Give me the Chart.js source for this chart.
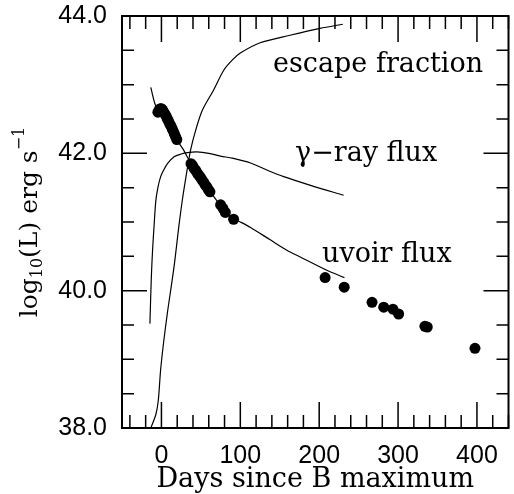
<!DOCTYPE html>
<html>
<head>
<meta charset="utf-8">
<script src="https://cdn.jsdelivr.net/npm/chart.js@4.4.1/dist/chart.umd.min.js"></script>
<style>
  html, body { margin: 0; padding: 0; background: #fff; }
  canvas { display: block; }
</style>
</head>
<body>
<canvas id="chart" width="514" height="494"></canvas>
<script>
// observed uvoir points (days since B max, log10 L)
const obsDays = [-4.5, -3, -1.5, 0, 1.5, 3, 4.5, 6, 7.5, 9, 10.5, 12, 13.5, 15, 16.5, 18, 19.5,
    37.5, 39.5, 41.5, 43.5, 45.5, 47.5, 49.5, 51.5, 53.5, 55.5, 57.5, 59.5, 61.5,
    75, 78, 81, 91.5, 207.5, 231.7, 267, 281.8, 293.5, 300.7, 334, 337, 397.5];
const obsLogL = [42.60, 42.63, 42.65, 42.65, 42.63, 42.60, 42.57, 42.54, 42.50, 42.47, 42.43, 42.40, 42.36, 42.32, 42.28, 42.24, 42.20,
    41.85, 41.82, 41.78, 41.75, 41.71, 41.68, 41.65, 41.61, 41.58, 41.54, 41.51, 41.47, 41.44,
    41.25, 41.20, 41.14, 41.04, 40.19, 40.05, 39.83, 39.76, 39.73, 39.66, 39.48, 39.47, 39.16];

// model curves
const uvoirDays = [-13.5, -8.5, -4, 0, 10, 20, 28, 37, 50, 62, 75, 83, 91, 100, 113, 138, 159, 176, 209, 232];
const uvoirLogL = [42.96, 42.73, 42.62, 42.60, 42.43, 42.19, 42.05, 41.86, 41.64, 41.44, 41.24, 41.13, 41.05, 41.0, 40.92, 40.74, 40.59, 40.49, 40.30, 40.19];

const gammaDays = [-14.6, -12.8, -11.2, -9.3, -7.2, -4.5, -1, 3, 7.6, 16, 25, 33, 45, 60, 75, 90, 113, 135, 155, 190, 231];
const gammaLogL = [39.52, 40.2, 40.6, 40.95, 41.3, 41.5, 41.66, 41.76, 41.85, 41.95, 41.99, 42.01, 42.02, 42.0, 41.96, 41.93, 41.86, 41.75, 41.66, 41.53, 41.39];

const escapeDays = [-13.5, -7, -4, -1, 3, 7.6, 16, 22, 26.5, 31, 37, 44, 52, 66, 79, 90, 100, 125, 163, 201, 230];
const escapeLogL = [38.0, 38.2, 38.4, 38.85, 39.27, 39.68, 40.35, 40.93, 41.32, 41.65, 42.05, 42.36, 42.63, 42.92, 43.21, 43.36, 43.46, 43.61, 43.72, 43.82, 43.88];

// axis ticks
const xTickLabels = [0, 100, 200, 300, 400];
const yTickLabels = [38, 40, 42, 44];

const serif = '"DejaVu Serif"';

const pts = (xs, ys) => xs.map((x, i) => ({ x: x, y: ys[i] }));

function curve(xs, ys) {
    return {
        data: pts(xs, ys),
        showLine: true,
        borderColor: '#000',
        borderWidth: 1.2,
        pointRadius: 0,
        tension: 0.3
    };
}

// frame, inward ticks, y title and curve labels
const decorations = {
    id: 'decorations',
    afterDraw(chart) {
        const { ctx, chartArea: a, scales: { x, y } } = chart;
        ctx.save();
        ctx.strokeStyle = '#000';
        ctx.lineWidth = 1.5;
        ctx.beginPath();
        for (let v = -40; v <= 440; v += 20) {
            const px = x.getPixelForValue(v);
            const len = v % 100 === 0 ? 26 : 13;
            ctx.moveTo(px, a.bottom); ctx.lineTo(px, a.bottom - len);
            ctx.moveTo(px, a.top); ctx.lineTo(px, a.top + len);
        }
        for (let v = 38.5; v < 44; v += 0.5) {
            const py = y.getPixelForValue(v);
            const len = v % 2 === 0 ? 25 : 12;
            ctx.moveTo(a.left, py); ctx.lineTo(a.left + len, py);
            ctx.moveTo(a.right, py); ctx.lineTo(a.right - len, py);
        }
        ctx.stroke();
        ctx.lineWidth = 2;
        ctx.strokeRect(a.left, a.top, a.right - a.left, a.bottom - a.top);

        // y axis title with sub- and superscript
        const parts = [
            { t: 'log', size: 25, dy: 0 },
            { t: '10', size: 16, dy: 5 },
            { t: '(L) erg s', size: 25, dy: 0 },
            { t: '\u22121', size: 16, dy: -13 }
        ];
        let total = 0;
        parts.forEach(p => {
            ctx.font = p.size + 'px ' + serif;
            p.w = ctx.measureText(p.t).width;
            total += p.w;
        });
        ctx.translate(37, (a.top + a.bottom) / 2);
        ctx.rotate(-Math.PI / 2);
        ctx.fillStyle = '#000';
        ctx.textBaseline = 'alphabetic';
        let cx = -total / 2;
        parts.forEach(p => {
            ctx.font = p.size + 'px ' + serif;
            ctx.fillText(p.t, cx, p.dy);
            cx += p.w;
        });
        ctx.restore();

        ctx.save();
        ctx.fillStyle = '#000';
        ctx.font = '27px ' + serif;
        ctx.textBaseline = 'alphabetic';
        ctx.fillText('escape fraction', 273, 72);
        ctx.fillText('\u03b3\u2212ray flux', 295, 161);
        ctx.fillText('uvoir flux', 322, 262);
        ctx.restore();
    }
};

new Chart(document.getElementById('chart'), {
    type: 'scatter',
    data: {
        datasets: [
            curve(escapeDays, escapeLogL),
            curve(gammaDays, gammaLogL),
            curve(uvoirDays, uvoirLogL),
            {
                data: pts(obsDays, obsLogL),
                pointRadius: 5.5,
                pointBackgroundColor: '#000',
                pointBorderWidth: 0,
                showLine: false
            }
        ]
    },
    options: {
        responsive: false,
        devicePixelRatio: 1,
        animation: false,
        layout: { padding: { left: 0, right: 5, top: 16, bottom: 0 } },
        plugins: { legend: { display: false }, tooltip: { enabled: false } },
        scales: {
            x: {
                type: 'linear',
                min: -50,
                max: 440,
                grid: { display: false, drawTicks: false },
                border: { display: false },
                afterBuildTicks: s => { s.ticks = xTickLabels.map(v => ({ value: v })); },
                afterFit: s => { s.height = 66; s.paddingLeft = 0; s.paddingRight = 0; },
                ticks: {
                    color: '#000',
                    padding: 13,
                    maxRotation: 0,
                    font: { family: 'Liberation Sans', size: 25 }
                },
                title: {
                    display: true,
                    text: 'Days since B maximum',
                    color: '#000',
                    padding: { top: 0, bottom: -2 },
                    font: { family: 'DejaVu Serif', size: 27 }
                }
            },
            y: {
                type: 'linear',
                min: 38,
                max: 44,
                grid: { display: false, drawTicks: false },
                border: { display: false },
                afterBuildTicks: s => { s.ticks = yTickLabels.map(v => ({ value: v })); },
                afterFit: s => { s.width = 122; s.paddingTop = 0; s.paddingBottom = 0; },
                ticks: {
                    color: '#000',
                    padding: 15,
                    font: { family: 'Liberation Sans', size: 25 },
                    callback: v => v.toFixed(1)
                }
            }
        }
    },
    plugins: [decorations]
});
</script>
</body>
</html>
